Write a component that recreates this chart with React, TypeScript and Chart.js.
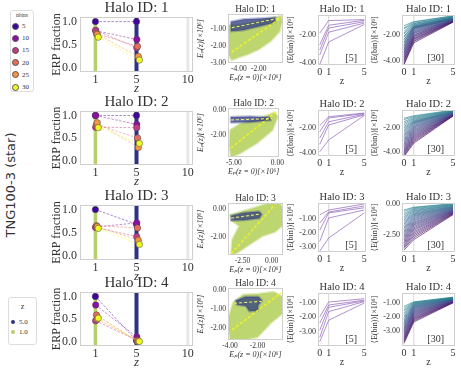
import React, { useEffect, useRef } from "react";
import { Chart, registerables } from "chart.js";

Chart.register(...registerables);

const SERIF = "'Liberation Serif', 'DejaVu Serif', serif";
const SANS = "'DejaVu Sans', sans-serif";
const TEXT = "#333333";

// ---------------- data ----------------
const HALO_IDS = [1, 2, 3, 4];
const SIM_LABEL = "TNG100-3 (star)";

// column 1: ERP fraction at the two snapshots, one series per nbins
const NBINS = [5, 10, 15, 20, 25, 30];
const NBIN_COLORS = ["#41049d", "#8f0da4", "#c13d83", "#e66c5c", "#f89540", "#f0f921"];
const NBIN_X_SHIFT = [0, 0.03, 0.02, 0.1, 0.18, 0.28];
const SNAP_Z = [1, 5];
const SNAP_LABELS = ["5.0", "1.0"];
const SNAP_COLORS = ["#2e3282", "#b5cf6b"];
const ERP_BAND_Z = [10, 1, 5];
const ERP_X_TICKS = [1, 5, 10];
const ERP_Y_TICKS = [0, 0.5, 1.0];
const ERP_X_RANGE = [-0.5, 10.5];
const ERP_Y_RANGE = [-0.1, 1.1];
const ERP_AT_Z1 = [
  [1.0, 0.8, 0.81, 0.74, 0.72, 0.66],
  [1.0, 1.0, 0.74, 0.8, 0.84, 0.73],
  [1.0, 0.62, 0.61, 0.65, 0.63, 0.59],
  [1.0, 0.81, 0.46, 0.59, 0.5, 0.52],
];
const ERP_AT_Z5 = [
  [1.0, 0.61, 0.43, 0.46, 0.24, 0.16],
  [1.0, 0.8, 0.73, 0.5, 0.29, 0.38],
  [0.68, 0.71, 0.41, 0.6, 0.33, 0.24],
  [0.02, 0.1, 0.03, 0.0, 0.01, 0.0],
];

// column 2: Ep(z) vs Ep(z=0) particle clouds
const EP_X_TICKS = [[-4, -2], [-5, 0], [-2.5, 0], [-4, -2]];
const EP_Y_TICKS = [[-1, -2, -3], [0, -2], [0, -2], [0, -1, -2]];
const EP_X_RANGE = [[-5.1, 0.45], [-5.67, 0.22], [-3.75, 0.98], [-4.15, -0.15]];
const EP_Y_RANGE = [[-3.0, -0.15], [-3.76, 0.16], [-3.29, 0.43], [-2.63, 0.1]];
const EP_CLOUD_Z1 = [
  [[-5.0, -0.8], [-4.0, -0.75], [-2.64, -0.6], [-1.27, -0.45], [0.27, -0.26], [0.36, -0.6], [0.09, -1.17], [-0.82, -1.74], [-2.0, -2.2], [-3.09, -2.49], [-4.0, -2.66], [-4.73, -2.83], [-5.0, -2.54]],
  [[-5.4, -1.6], [-4.22, -1.1], [-2.33, -0.75], [-0.33, -0.2], [0.05, -0.5], [-0.56, -1.6], [-2.33, -2.64], [-4.22, -3.44], [-5.33, -3.76], [-5.5, -2.8]],
  [[-3.57, -0.43], [-2.41, -0.14], [-1.52, 0.07], [-0.45, 0.36], [0.71, 0.43], [1.0, -0.07], [0.98, -1.14], [0.27, -1.64], [-0.8, -1.93], [-1.96, -2.57], [-2.86, -3.07], [-3.48, -3.36], [-3.39, -2.21], [-2.77, -1.21], [-3.39, -0.86]],
  [[-4.15, -1.58], [-3.78, -0.68], [-3.04, -0.26], [-2.0, -0.21], [-0.81, -0.11], [-0.15, -0.37], [-0.15, -1.21], [-1.04, -1.74], [-2.0, -2.47], [-3.04, -2.63], [-4.0, -2.63]],
];
const EP_CLOUD_Z5 = [
  [[-4.8, -0.6], [-3.5, -0.45], [-1.5, -0.4], [-0.3, -0.35], [-0.4, -0.65], [-1.8, -0.85], [-3.6, -1.1], [-4.8, -1.15]],
  [[-5.33, -0.55], [-3.11, -0.52], [-0.89, -0.58], [-0.75, -0.82], [-3.11, -0.98], [-5.33, -1.0]],
  [[-3.48, -0.48], [-2.41, -0.26], [-1.07, -0.18], [-0.85, -0.38], [-1.05, -0.66], [-2.41, -0.8], [-3.48, -0.82]],
  [[-3.6, -0.56], [-2.89, -0.36], [-1.93, -0.36], [-1.68, -0.55], [-1.95, -0.8], [-1.98, -1.1], [-2.6, -1.12], [-2.85, -0.84], [-3.5, -0.78]],
];
const EP_FIT_Z1 = [
  [[-4.73, -2.37], [0.27, -0.37]],
  [[-5.33, -3.04], [0.0, -0.08]],
  [[-3.48, -3.2], [0.27, 0.29]],
  [[-3.85, -2.1], [-0.3, -0.16]],
];
const EP_FIT_Z5 = [
  [[-4.73, -0.95], [0.0, -0.4]],
  [[-5.33, -0.8], [-0.6, -0.68]],
  [[-3.48, -0.65], [-0.98, -0.36]],
  [[-3.7, -0.7], [-1.7, -0.6]],
];

// columns 3 & 4: <E(bin)> vs z
const EBIN_Z = [0, 1, 5];
const EBIN_X_TICKS = [0, 1, 5];
const EBIN_X_RANGE = [-0.2, 5.2];
const EBIN5_Y_TICKS = [[-2, -4], [-2, -4], [-1, -2, -3], [-1, -2, -3]];
const EBIN5_Y_RANGE = [[-4.14, -0.57], [-4.24, -0.56], [-3.36, 0.14], [-4.0, -0.3]];
const EBIN30_Y_TICKS = [[-2, -4], [-2, -4], [0, -2.5], [-1, -2, -3]];
const EBIN30_Y_RANGE = [[-4.3, -0.46], [-4.33, -0.5], [-3.83, 0.05], [-4.03, -0.31]];

const EBIN5_Z0 = [
  [-1.86, -2.71, -3.07, -3.43, -4.1],
  [-1.8, -2.3, -2.8, -3.3, -3.9],
  [-0.7, -1.3, -1.8, -2.6, -3.3],
  [-1.97, -2.4, -2.9, -3.4, -3.7],
];
const EBIN5_Z1 = [
  [-0.97, -1.3, -1.5, -1.8, -2.5],
  [-1.1, -1.2, -1.5, -1.76, -2.96],
  [-0.36, -0.5, -0.57, -0.93, -2.36],
  [-0.93, -1.14, -1.3, -1.6, -2.2],
];
const EBIN5_Z5 = [
  [-0.9, -0.95, -1.05, -1.15, -1.25],
  [-0.8, -0.85, -0.9, -0.95, -1.0],
  [0.07, -0.07, -0.2, -0.36, -0.57],
  [-0.7, -0.8, -0.85, -0.9, -1.0],
];

const EBIN30_Z0 = [
  [-1.28, -1.45, -1.52, -1.7, -1.84, -1.93, -2.08, -2.16, -2.31, -2.37, -2.52, -2.58, -2.7, -2.82, -2.88, -2.99, -3.1, -3.14, -3.27, -3.35, -3.41, -3.52, -3.63, -3.69, -3.8, -3.89, -3.97, -4.1, -4.2, -4.28],
  [-1.18, -1.3, -1.47, -1.6, -1.74, -1.88, -2.0, -2.12, -2.25, -2.36, -2.48, -2.6, -2.71, -2.83, -2.95, -3.05, -3.15, -3.27, -3.36, -3.47, -3.56, -3.67, -3.76, -3.86, -3.95, -4.03, -4.12, -4.2, -4.3, -4.38],
  [-0.5, -0.62, -0.78, -0.9, -1.03, -1.15, -1.27, -1.4, -1.5, -1.62, -1.73, -1.85, -1.95, -2.06, -2.17, -2.27, -2.38, -2.48, -2.58, -2.68, -2.78, -2.88, -2.97, -3.07, -3.16, -3.26, -3.35, -3.45, -3.55, -3.68],
  [-1.25, -1.38, -1.5, -1.6, -1.72, -1.82, -1.93, -2.02, -2.12, -2.2, -2.3, -2.38, -2.47, -2.55, -2.64, -2.72, -2.8, -2.88, -2.96, -3.04, -3.12, -3.2, -3.28, -3.36, -3.44, -3.52, -3.6, -3.68, -3.76, -3.85],
];
const EBIN30_Z1 = [
  [-0.97, -1.01, -1.1, -1.13, -1.2, -1.24, -1.29, -1.33, -1.37, -1.4, -1.42, -1.45, -1.48, -1.52, -1.58, -1.64, -1.7, -1.77, -1.83, -1.88, -1.97, -2.01, -2.09, -2.13, -2.21, -2.28, -2.33, -2.42, -2.49, -2.6],
  [-0.98, -1.05, -1.12, -1.2, -1.27, -1.35, -1.42, -1.47, -1.52, -1.57, -1.63, -1.7, -1.78, -1.86, -1.93, -2.01, -2.1, -2.18, -2.26, -2.35, -2.43, -2.52, -2.6, -2.69, -2.77, -2.86, -2.95, -3.05, -3.15, -3.27],
  [-0.28, -0.33, -0.4, -0.47, -0.55, -0.6, -0.68, -0.75, -0.82, -0.88, -0.95, -1.02, -1.1, -1.18, -1.27, -1.35, -1.45, -1.53, -1.62, -1.7, -1.8, -1.9, -2.0, -2.1, -2.22, -2.33, -2.45, -2.57, -2.7, -2.85],
  [-0.93, -0.96, -1.0, -1.03, -1.07, -1.1, -1.14, -1.18, -1.22, -1.26, -1.3, -1.34, -1.38, -1.43, -1.48, -1.53, -1.58, -1.63, -1.68, -1.73, -1.79, -1.84, -1.9, -1.96, -2.02, -2.08, -2.14, -2.2, -2.27, -2.35],
];
const EBIN30_Z5 = [
  [-0.52, -0.54, -0.58, -0.6, -0.61, -0.65, -0.66, -0.69, -0.7, -0.71, -0.74, -0.75, -0.77, -0.78, -0.79, -0.82, -0.83, -0.85, -0.86, -0.87, -0.89, -0.9, -0.9, -0.92, -0.94, -0.95, -0.96, -0.98, -0.99, -1.01],
  [-0.5, -0.53, -0.55, -0.58, -0.6, -0.62, -0.64, -0.66, -0.68, -0.7, -0.71, -0.73, -0.75, -0.77, -0.78, -0.8, -0.81, -0.83, -0.84, -0.86, -0.87, -0.88, -0.9, -0.91, -0.93, -0.94, -0.95, -0.97, -0.98, -1.0],
  [0.0, -0.03, -0.06, -0.1, -0.13, -0.16, -0.2, -0.23, -0.26, -0.29, -0.32, -0.35, -0.38, -0.41, -0.44, -0.47, -0.5, -0.52, -0.55, -0.58, -0.6, -0.63, -0.66, -0.68, -0.71, -0.74, -0.77, -0.8, -0.83, -0.87],
  [-0.6, -0.62, -0.63, -0.65, -0.66, -0.68, -0.69, -0.7, -0.72, -0.73, -0.74, -0.76, -0.77, -0.78, -0.8, -0.81, -0.82, -0.84, -0.85, -0.86, -0.88, -0.89, -0.9, -0.92, -0.93, -0.94, -0.96, -0.97, -0.98, -1.0],
];

// ---------------- layout (pixels) ----------------
const COL1 = { l: 80, r: 193, yW: 32, top: 17, xH: 24, right: 7, tops: [17, 111, 205, 292], bots: [72, 165, 260, 346] };
const COL2 = { l: 228, r: 283, yW: 32, top: 14, xH: 20, right: 3, tops: [14, 108, 203, 288], bots: [63, 157, 255, 340] };
const COL3 = { l: 318, r: 366, yW: 33, top: 15, xH: 22, right: 4, tops: [15, 110, 203, 293], bots: [65, 156, 252, 346] };
const COL4 = { l: 402, r: 455, yW: 33, top: 15, xH: 22, right: 5, tops: [15, 110, 203, 293], bots: [65, 156, 252, 346] };

// ---------------- helpers ----------------
function hexRgb(h: string) {
  const n = parseInt(h.slice(1), 16);
  return [(n >> 16) & 255, (n >> 8) & 255, n & 255];
}
function alpha(h: string, a: number) {
  const [r, g, b] = hexRgb(h);
  return `rgba(${r},${g},${b},${a})`;
}
const VIRIDIS = ["#440154", "#482475", "#414487", "#355f8d", "#2a788e", "#21918c", "#22a884", "#44bf70"];
function viridis(t: number, a: number) {
  const p = t * (VIRIDIS.length - 1);
  const i = Math.min(Math.floor(p), VIRIDIS.length - 2);
  const f = p - i;
  const c0 = hexRgb(VIRIDIS[i]);
  const c1 = hexRgb(VIRIDIS[i + 1]);
  const c = c0.map((v, k) => Math.round(v + (c1[k] - v) * f));
  return `rgba(${c[0]},${c[1]},${c[2]},${a})`;
}

type Deco = {
  title: string;
  titleFont: string;
  titleGap: number;
  corner?: string;
  cornerFont?: string;
  cornerRight?: number;
  bands?: { x: number; color: string; width: number }[];
  polys?: { pts: number[][]; fill: string; stroke?: string }[];
};

function decoPlugin(d: Deco) {
  return {
    id: "deco",
    beforeDatasetsDraw(chart: any) {
      const { ctx, chartArea: a, scales } = chart;
      ctx.save();
      ctx.beginPath();
      ctx.rect(a.left, a.top, a.right - a.left, a.bottom - a.top);
      ctx.clip();
      for (const b of d.bands || []) {
        const px = scales.x.getPixelForValue(b.x);
        ctx.beginPath();
        ctx.moveTo(px, a.top);
        ctx.lineTo(px, a.bottom);
        ctx.strokeStyle = b.color;
        ctx.lineWidth = b.width;
        ctx.stroke();
      }
      for (const p of d.polys || []) {
        ctx.beginPath();
        p.pts.forEach(([x, y], i) => {
          const px = scales.x.getPixelForValue(x);
          const py = scales.y.getPixelForValue(y);
          if (i === 0) ctx.moveTo(px, py);
          else ctx.lineTo(px, py);
        });
        ctx.closePath();
        if (p.stroke) {
          ctx.strokeStyle = p.stroke;
          ctx.lineWidth = 2.5;
          ctx.lineJoin = "round";
          ctx.stroke();
        }
        ctx.fillStyle = p.fill;
        ctx.fill();
      }
      ctx.restore();
    },
    afterDraw(chart: any) {
      const { ctx, chartArea: a } = chart;
      ctx.save();
      ctx.strokeStyle = "#cfcfcf";
      ctx.lineWidth = 1;
      ctx.strokeRect(Math.round(a.left) + 0.5, Math.round(a.top) + 0.5, Math.round(a.right - a.left) - 1, Math.round(a.bottom - a.top) - 1);
      ctx.fillStyle = TEXT;
      ctx.font = d.titleFont;
      ctx.textAlign = "center";
      ctx.textBaseline = "middle";
      ctx.fillText(d.title, (a.left + a.right) / 2, a.top - d.titleGap);
      if (d.corner) {
        ctx.font = d.cornerFont || d.titleFont;
        ctx.textAlign = "right";
        ctx.textBaseline = "alphabetic";
        ctx.fillText(d.corner, a.right - (d.cornerRight || 8), a.bottom - 4);
      }
      ctx.restore();
    },
  };
}

function scale(o: any) {
  return {
    type: "linear",
    min: o.min,
    max: o.max,
    afterBuildTicks: (s: any) => {
      s.ticks = o.ticks.map((v: number) => ({ value: v }));
    },
    afterFit: (s: any) => {
      if (o.horizontal) s.height = o.size;
      else s.width = o.size;
    },
    ticks: {
      callback: (v: number) => Number(v).toFixed(o.digits),
      font: o.tickFont,
      color: TEXT,
      padding: o.tickPad,
      autoSkip: false,
      maxRotation: 0,
      minRotation: 0,
    },
    grid: { display: false, drawTicks: false },
    border: { display: false },
    title: {
      display: !!o.title,
      text: o.title,
      font: o.titleFont,
      color: TEXT,
      padding: o.titlePad || { top: 0, bottom: 0 },
    },
  };
}

function baseOptions(geo: any, xs: any, ys: any) {
  return {
    responsive: false,
    animation: false,
    devicePixelRatio: 1,
    layout: { padding: { top: geo.top, right: geo.right, left: 0, bottom: 0 } },
    plugins: { legend: { display: false }, tooltip: { enabled: false } },
    events: [],
    scales: { x: xs, y: ys },
  };
}

// ---------------- panel configs ----------------
function erpConfig(r: number) {
  const datasets: any[] = NBINS.map((nb, i) => ({
    label: String(nb),
    data: [
      { x: SNAP_Z[0] + NBIN_X_SHIFT[i], y: ERP_AT_Z1[r][i] },
      { x: SNAP_Z[1] + NBIN_X_SHIFT[i], y: ERP_AT_Z5[r][i] },
    ],
    showLine: true,
    borderColor: alpha(NBIN_COLORS[i], 0.6),
    borderWidth: 0.8,
    borderDash: [2.5, 1.5],
    pointRadius: 3.2,
    pointBackgroundColor: NBIN_COLORS[i],
    pointBorderColor: "#444444",
    pointBorderWidth: 0.5,
    order: 5 - i,
    clip: false,
  }));
  const xs = scale({
    min: ERP_X_RANGE[0], max: ERP_X_RANGE[1], ticks: ERP_X_TICKS, digits: 0, horizontal: true, size: COL1.xH, tickPad: 1,
    tickFont: { family: SERIF, size: 12 }, title: "z", titleFont: { family: SERIF, size: 13, style: "italic" },
  });
  const ys = scale({
    min: ERP_Y_RANGE[0], max: ERP_Y_RANGE[1], ticks: ERP_Y_TICKS, digits: 1, horizontal: false, size: COL1.yW, tickPad: 3,
    tickFont: { family: SERIF, size: 12 }, title: "ERP fraction", titleFont: { family: SERIF, size: 12 },
    titlePad: { top: 2, bottom: 0 },
  });
  return {
    type: "scatter",
    data: { datasets },
    options: baseOptions(COL1, xs, ys),
    plugins: [
      decoPlugin({
        title: `Halo ID: ${HALO_IDS[r]}`, titleFont: `15px ${SERIF}`, titleGap: 9,
        bands: [
          { x: ERP_BAND_Z[0], color: "rgba(225,225,225,0.8)", width: 3 },
          { x: ERP_BAND_Z[1], color: SNAP_COLORS[1], width: 3.5 },
          { x: ERP_BAND_Z[2], color: SNAP_COLORS[0], width: 4 },
        ],
      }),
    ],
  };
}

function epConfig(r: number) {
  const datasets: any[] = [
    {
      data: EP_FIT_Z1[r].map(([x, y]) => ({ x, y })),
      showLine: true, borderColor: "#f4f41c", borderWidth: 1.4, borderDash: [3, 2], pointRadius: 0, order: 1,
    },
    {
      data: EP_FIT_Z5[r].map(([x, y]) => ({ x, y })),
      showLine: true, borderColor: "rgba(240,240,110,0.95)", borderWidth: 1.1, borderDash: [3, 2], pointRadius: 0, order: 0,
    },
  ];
  const xs = scale({
    min: EP_X_RANGE[r][0], max: EP_X_RANGE[r][1], ticks: EP_X_TICKS[r], digits: 2, horizontal: true, size: COL2.xH, tickPad: 2,
    tickFont: { family: SERIF, size: 7.5 }, title: "Eₚ(z = 0)[×10⁶]", titleFont: { family: SERIF, size: 8, style: "italic" },
  });
  const ys = scale({
    min: EP_Y_RANGE[r][0], max: EP_Y_RANGE[r][1], ticks: EP_Y_TICKS[r], digits: 2, horizontal: false, size: COL2.yW, tickPad: 2,
    tickFont: { family: SERIF, size: 7.5 }, title: "Eₚ(z)[×10⁶]", titleFont: { family: SERIF, size: 8, style: "italic" },
  });
  return {
    type: "scatter",
    data: { datasets },
    options: baseOptions(COL2, xs, ys),
    plugins: [
      decoPlugin({
        title: `Halo ID: ${HALO_IDS[r]}`, titleFont: `9.5px ${SERIF}`, titleGap: 5,
        polys: [
          { pts: EP_CLOUD_Z1[r], fill: "#bed66f", stroke: "rgba(190,214,111,0.45)" },
          { pts: EP_CLOUD_Z5[r], fill: "rgba(42,52,128,0.72)", stroke: "rgba(70,80,150,0.35)" },
        ],
      }),
    ],
  };
}

function ebinConfig(r: number, big: boolean) {
  const z0 = big ? EBIN30_Z0[r] : EBIN5_Z0[r];
  const z1 = big ? EBIN30_Z1[r] : EBIN5_Z1[r];
  const z5 = big ? EBIN30_Z5[r] : EBIN5_Z5[r];
  const yr = (big ? EBIN30_Y_RANGE : EBIN5_Y_RANGE)[r];
  const n = z0.length;
  const datasets: any[] = [];
  for (let i = 0; i < n; i++) {
    const color = big ? viridis(0.04 + 0.6 * (1 - i / (n - 1)), 0.8) : "rgba(140,92,186,0.85)";
    datasets.push({
      data: [
        { x: EBIN_Z[0], y: z0[i] },
        { x: EBIN_Z[1], y: z1[i] },
        { x: EBIN_Z[2], y: z5[i] },
      ],
      showLine: true, borderColor: color, borderWidth: 0.8, pointRadius: 0, order: i,
    });
  }
  const geo = big ? COL4 : COL3;
  const xs = scale({
    min: EBIN_X_RANGE[0], max: EBIN_X_RANGE[1], ticks: EBIN_X_TICKS, digits: 0, horizontal: true, size: geo.xH, tickPad: 1,
    tickFont: { family: SERIF, size: 10 }, title: "z", titleFont: { family: SERIF, size: 10 },
  });
  const ys = scale({
    min: yr[0], max: yr[1],
    ticks: (big ? EBIN30_Y_TICKS : EBIN5_Y_TICKS)[r], digits: 2, horizontal: false, size: geo.yW, tickPad: 2,
    tickFont: { family: SERIF, size: 8 }, title: "⟨E(bin)⟩[×10⁶]", titleFont: { family: SERIF, size: 8 },
    titlePad: { top: 1, bottom: 0 },
  });
  return {
    type: "scatter",
    data: { datasets },
    options: baseOptions(geo, xs, ys),
    plugins: [
      decoPlugin({
        title: `Halo ID: ${HALO_IDS[r]}`, titleFont: `10.5px ${SERIF}`, titleGap: 6,
        corner: big ? "[30]" : "[5]", cornerFont: `10px ${SERIF}`, cornerRight: big ? 11 : 9,
        bands: [{ x: EBIN_Z[1], color: "rgba(170,170,170,0.6)", width: 0.8 }],
      }),
    ],
  };
}

// ---------------- components ----------------
function Panel({ geo, row, build }: { geo: any; row: number; build: () => any }) {
  const ref = useRef<HTMLCanvasElement>(null);
  const w = geo.r - geo.l + geo.yW + geo.right;
  const h = geo.bots[row] - geo.tops[row] + geo.top + geo.xH;
  useEffect(() => {
    const chart = new Chart(ref.current as HTMLCanvasElement, build());
    return () => chart.destroy();
  }, []);
  return (
    <canvas
      ref={ref}
      width={w}
      height={h}
      style={{ position: "absolute", left: geo.l - geo.yW, top: geo.tops[row] - geo.top, width: w, height: h }}
    />
  );
}

export default function App() {
  return (
    <div style={{ position: "fixed", left: 0, top: 0, width: 461, height: 377, background: "#ffffff", overflow: "hidden" }}>
      {/* nbins legend */}
      <div style={{ position: "absolute", left: 10, top: 10, width: 24, height: 82, border: "1px solid #dddddd", borderRadius: 3, boxSizing: "border-box", background: "#fff" }}>
        <div style={{ position: "absolute", left: 0, width: "100%", top: 1, textAlign: "center", font: `5.5px ${SERIF}`, color: TEXT }}>nbins</div>
        {NBINS.map((nb, i) => (
          <React.Fragment key={nb}>
            <div style={{ position: "absolute", left: 0.5, top: 11.5 + i * 12.2, width: 7, height: 7, borderRadius: "50%", background: NBIN_COLORS[i], border: "0.5px solid #555", boxSizing: "border-box" }} />
            <div style={{ position: "absolute", left: 11, top: 11 + i * 12.2, font: `7px ${SERIF}`, lineHeight: "8px", color: TEXT }}>{nb}</div>
          </React.Fragment>
        ))}
      </div>
      {/* z legend */}
      <div style={{ position: "absolute", left: 8, top: 297, width: 29, height: 48, border: "1px solid #dddddd", borderRadius: 3, boxSizing: "border-box", background: "#fff" }}>
        <div style={{ position: "absolute", left: 0, width: "100%", top: 4, textAlign: "center", font: `8px ${SERIF}`, lineHeight: "10px", color: TEXT }}>z</div>
        {SNAP_LABELS.map((lab, i) => (
          <React.Fragment key={lab}>
            <div style={{ position: "absolute", left: 2, top: 22 + i * 10, width: 4, height: 4, borderRadius: "50%", background: SNAP_COLORS[i] }} />
            <div style={{ position: "absolute", left: 10, top: 20 + i * 10, font: `7px ${SERIF}`, lineHeight: "8px", color: TEXT }}>{lab}</div>
          </React.Fragment>
        ))}
      </div>
      {/* row label */}
      <div style={{ position: "absolute", left: 10, top: 185, transform: "translate(-50%, -50%) rotate(-90deg)", whiteSpace: "nowrap", font: `13px ${SANS}`, color: TEXT }}>
        {SIM_LABEL}
      </div>
      {HALO_IDS.map((id, r) => (
        <React.Fragment key={id}>
          <Panel geo={COL1} row={r} build={() => erpConfig(r)} />
          <Panel geo={COL2} row={r} build={() => epConfig(r)} />
          <Panel geo={COL3} row={r} build={() => ebinConfig(r, false)} />
          <Panel geo={COL4} row={r} build={() => ebinConfig(r, true)} />
        </React.Fragment>
      ))}
    </div>
  );
}
